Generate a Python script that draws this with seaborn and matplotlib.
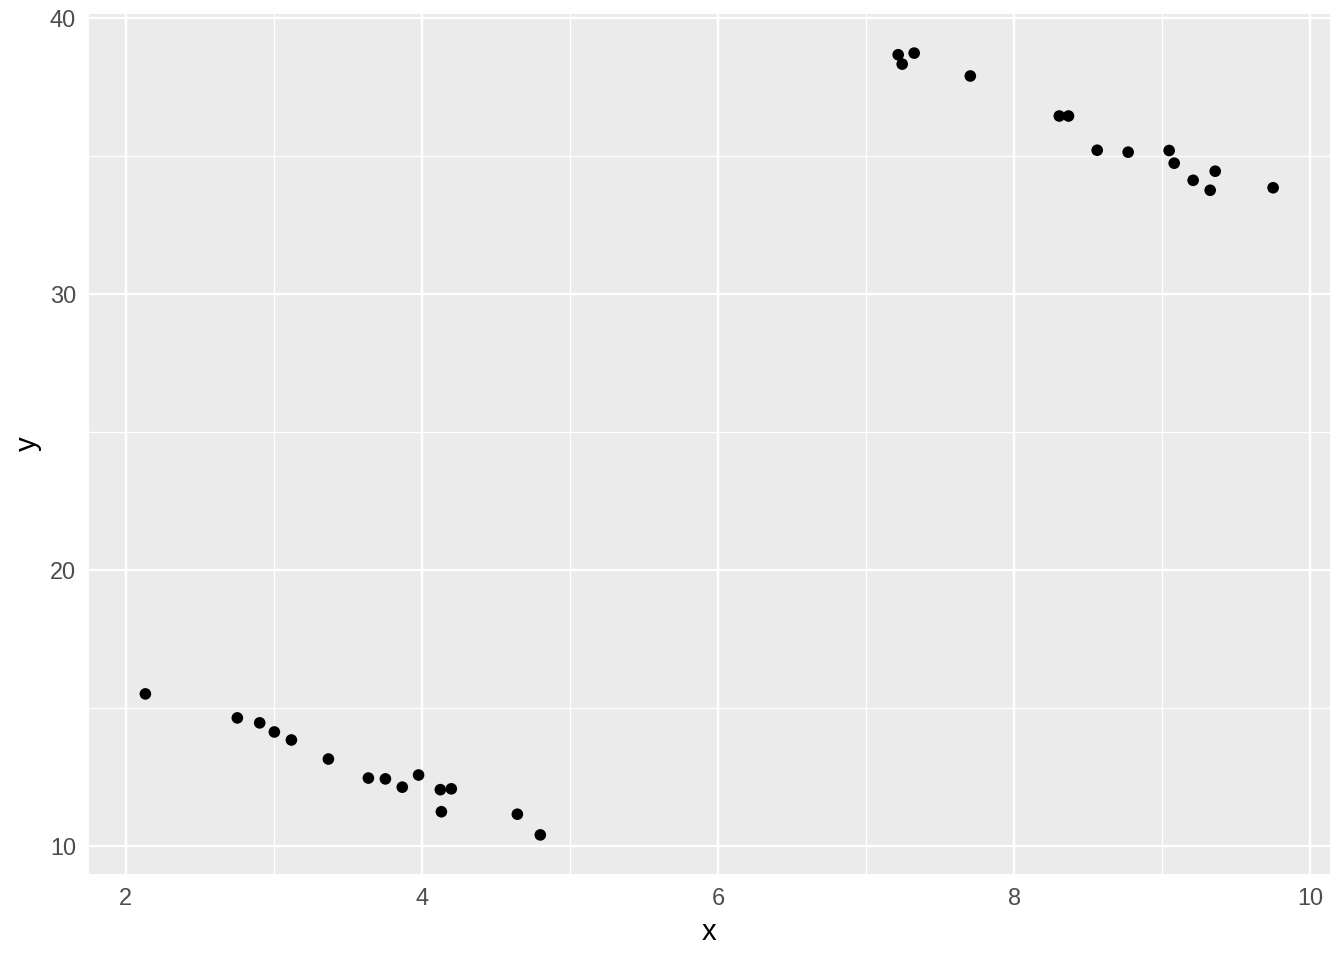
import numpy as np
import pandas as pd
import matplotlib
matplotlib.use("Agg")
import matplotlib.pyplot as plt
import seaborn as sns

# values
x_vals = [2.133, 2.754, 2.905, 3.004, 3.119, 3.369, 3.639, 3.754, 3.868, 3.978,
          4.125, 4.199, 4.132, 4.645, 4.800,
          7.217, 7.325, 7.244, 7.704, 8.305, 8.367, 8.561, 8.770, 9.047, 9.081,
          9.209, 9.358, 9.324, 9.749]
y_vals = [15.52, 14.65, 14.47, 14.14, 13.85, 13.16, 12.47, 12.44, 12.14, 12.58,
          12.05, 12.08, 11.25, 11.16, 10.41,
          38.68, 38.74, 38.34, 37.91, 36.46, 36.46, 35.22, 35.15, 35.21, 34.75,
          34.13, 34.46, 33.77, 33.86]
x_ticks = [2, 4, 6, 8, 10]
y_ticks = [10, 20, 30, 40]
x_minor = [3, 5, 7, 9]
y_minor = [15, 25, 35]

df = pd.DataFrame({"x": x_vals, "y": y_vals})

sns.set_theme(style="darkgrid")
plt.rcParams["font.family"] = ["Liberation Sans", "DejaVu Sans"]

fig = plt.figure(figsize=(7, 5), dpi=192)
ax = fig.add_axes([89 / 1344, 1 - 874 / 960, (1329.5 - 89) / 1344, (874 - 14) / 960])
ax.set_facecolor("#EBEBEB")

sns.scatterplot(data=df, x="x", y="y", ax=ax, color="black", s=19,
                edgecolor="none", linewidth=0, zorder=3)

# ggplot style expansion (5%)
xr = max(x_vals) - min(x_vals)
yr = max(y_vals) - min(y_vals)
ax.set_xlim(min(x_vals) - 0.05 * xr, max(x_vals) + 0.05 * xr)
ax.set_ylim(min(y_vals) - 0.05 * yr, max(y_vals) + 0.05 * yr)

ax.set_xticks(x_ticks)
ax.set_yticks(y_ticks)
ax.set_xticks(x_minor, minor=True)
ax.set_yticks(y_minor, minor=True)
ax.grid(which="major", color="white", linewidth=0.9)
ax.grid(which="minor", color="white", linewidth=0.45)
ax.set_axisbelow(True)

for s in ax.spines.values():
    s.set_visible(False)

ax.tick_params(axis="both", which="major", length=2.75, width=0.9,
               color="#333333", labelcolor="#4D4D4D", labelsize=8.8, pad=2.2)
ax.tick_params(axis="both", which="minor", length=0)
ax.set_xlabel("x", fontsize=11, color="black", labelpad=2.75)
ax.set_ylabel("y", fontsize=11, color="black", labelpad=2.75)

fig.savefig("out.png", dpi=192, facecolor="white")
